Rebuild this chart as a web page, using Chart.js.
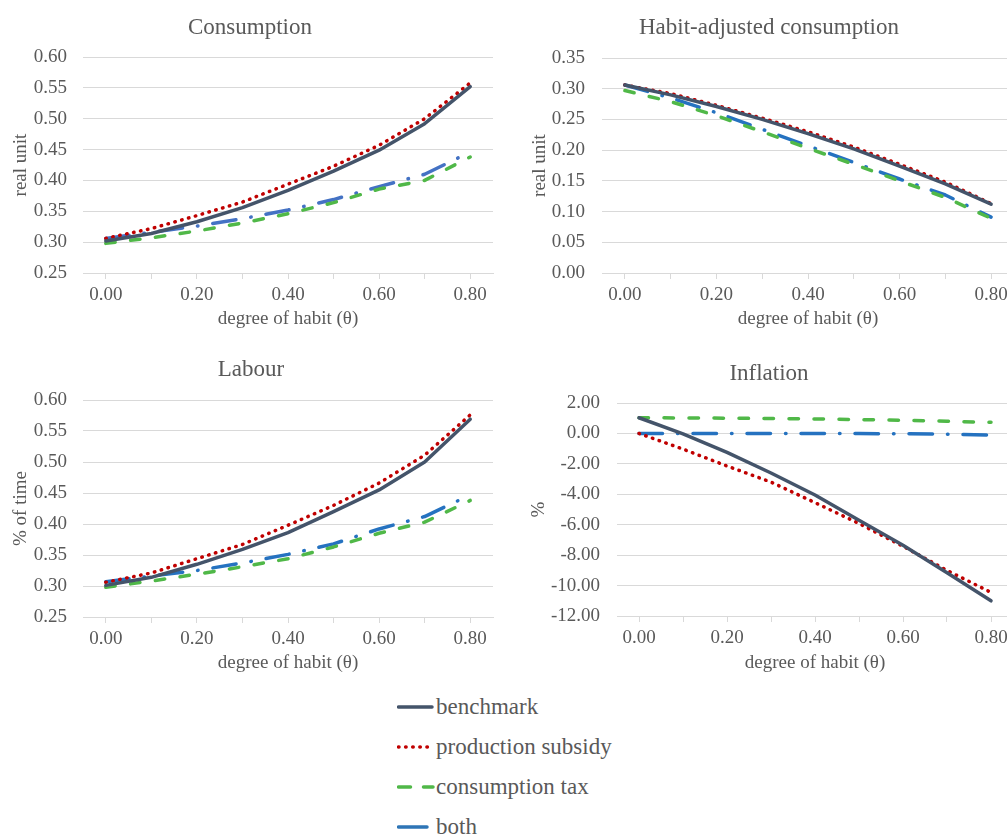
<!DOCTYPE html>
<html><head><meta charset="utf-8">
<script src="https://cdn.jsdelivr.net/npm/chart.js@4/dist/chart.umd.min.js"></script>
<style>
html,body{margin:0;padding:0;overflow:hidden;background:#fff;width:1007px;height:834px;position:relative;}
canvas{position:absolute;}
.row{position:absolute;left:397px;height:26px;line-height:26px;white-space:nowrap;font-family:'Liberation Serif','Times New Roman',serif;font-size:23px;color:#595959;}
.row svg{position:absolute;left:0;top:8px;}
.row span{position:absolute;left:39px;top:0;}
</style></head><body>
<canvas id="c1" width="500" height="340" style="left:0;top:0"></canvas>
<canvas id="c2" width="520" height="340" style="left:500px;top:0"></canvas>
<canvas id="c3" width="500" height="340" style="left:0;top:340px"></canvas>
<canvas id="c4" width="520" height="340" style="left:500px;top:340px"></canvas>
<div class="row" style="top:694px"><svg width="40" height="10"><line x1="1.5" y1="5" x2="35" y2="5" stroke="#44546A" stroke-width="3.5" stroke-linecap="round"/></svg><span>benchmark</span></div>
<div class="row" style="top:734px"><svg width="40" height="10"><line x1="1.5" y1="5" x2="36" y2="5" stroke="#C00000" stroke-width="3.5" stroke-linecap="round" stroke-dasharray="0.5 6.6"/></svg><span>production subsidy</span></div>
<div class="row" style="top:774px"><svg width="40" height="10"><line x1="1.5" y1="5" x2="36" y2="5" stroke="#50B848" stroke-width="3.5" stroke-linecap="round" stroke-dasharray="12 13 20"/></svg><span>consumption tax</span></div>
<div class="row" style="top:814px"><svg width="40" height="10"><line x1="1.5" y1="5" x2="30" y2="5" stroke="#2E75B6" stroke-width="3.5" stroke-linecap="round"/></svg><span>both</span></div>
<script>
// ---- data ----
const theta = [0, 0.1, 0.2, 0.3, 0.4, 0.5, 0.6, 0.7, 0.8];
const xTickLabels = ['0.00', '', '0.20', '', '0.40', '', '0.60', '', '0.80'];
const seriesNames = ['benchmark', 'production subsidy', 'consumption tax', 'both'];

const consBenchmark = [0.302, 0.314, 0.333, 0.356, 0.384, 0.415, 0.449, 0.492, 0.552];
const consSubsidy   = [0.306, 0.322, 0.343, 0.365, 0.394, 0.423, 0.457, 0.500, 0.558];
const consTax       = [0.298, 0.307, 0.318, 0.331, 0.346, 0.364, 0.386, 0.400, 0.438];
const consBoth      = [0.306, 0.316, 0.326, 0.338, 0.352, 0.369, 0.390, 0.410, 0.446];
const consTicks     = [0.25, 0.30, 0.35, 0.40, 0.45, 0.50, 0.55, 0.60];

const habitBenchmark = [0.306, 0.290, 0.271, 0.250, 0.227, 0.202, 0.174, 0.145, 0.112];
const habitSubsidy   = [0.306, 0.292, 0.273, 0.252, 0.230, 0.205, 0.177, 0.148, 0.113];
const habitTax       = [0.297, 0.279, 0.256, 0.230, 0.203, 0.177, 0.150, 0.123, 0.089];
const habitBoth      = [0.306, 0.285, 0.261, 0.234, 0.207, 0.180, 0.153, 0.127, 0.091];
const habitTicks     = [0.00, 0.05, 0.10, 0.15, 0.20, 0.25, 0.30, 0.35];

const labBenchmark = [0.301, 0.314, 0.335, 0.359, 0.386, 0.420, 0.455, 0.500, 0.569];
const labSubsidy   = [0.306, 0.321, 0.344, 0.367, 0.398, 0.430, 0.466, 0.511, 0.576];
const labTax       = [0.298, 0.308, 0.319, 0.331, 0.344, 0.363, 0.385, 0.403, 0.438];
const labBoth      = [0.307, 0.316, 0.325, 0.337, 0.351, 0.368, 0.392, 0.412, 0.447];
const labTicks     = [0.25, 0.30, 0.35, 0.40, 0.45, 0.50, 0.55, 0.60];

const infBenchmark = [1.03, -0.03, -1.25, -2.6, -4.05, -5.7, -7.35, -9.15, -11.0];
const infSubsidy   = [0.0, -1.03, -2.14, -3.2, -4.55, -5.92, -7.42, -9.0, -10.45];
const infTax       = [1.03, 1.02, 1.0, 0.98, 0.95, 0.91, 0.86, 0.8, 0.73];
const infBoth      = [0.0, 0.0, 0.0, 0.0, 0.0, -0.01, -0.02, -0.05, -0.11];
const infTicks     = [-12, -10, -8, -6, -4, -2, 0, 2];

// ---- styles ----
const FONT = "'Liberation Serif','Times New Roman',serif";
const TXT = '#595959';
const GRID = '#D9D9D9';
const LW = 3.5;

function ds(label, values, color, dash) {
  return {
    label, data: values.map((v, i) => ({x: theta[i], y: v})),
    borderColor: color, backgroundColor: color, borderWidth: LW,
    borderDash: dash, borderCapStyle: 'round', borderJoinStyle: 'round',
    pointRadius: 0, tension: 0, fill: false
  };
}

function makeChart(id, c) {
  const datasets = [
    ds(seriesNames[0], c.vals[0], '#44546A', []),
    ds(seriesNames[1], c.vals[1], '#C00000', [0.5, 6.6]),
    ds(seriesNames[2], c.vals[2], '#50B848', [9.5, 15.5]),
    ds(seriesNames[3], c.vals[3], c.blue, [23.5, 15, 0.5, 15])
  ];
  return new Chart(document.getElementById(id), {
    type: 'line',
    data: {datasets},
    options: {
      responsive: false, animation: false, devicePixelRatio: 1,
      layout: {padding: {left: c.pl, right: c.pr, top: 0, bottom: 0}},
      plugins: {
        legend: {display: false}, tooltip: {enabled: false},
        title: {display: true, text: c.title, color: TXT,
          font: {family: FONT, size: 23, weight: 'normal', lineHeight: 1.2},
          padding: {top: c.T, bottom: c.B}}
      },
      scales: {
        x: {
          type: 'linear', min: -0.05, max: 0.85,
          afterBuildTicks: s => { s.ticks = theta.map(v => ({value: v})); },
          ticks: {callback: (v, i) => xTickLabels[i], color: TXT, font: {family: FONT, size: 19, lineHeight: 1.2},
            padding: 5, maxRotation: 0, minRotation: 0, autoSkip: false},
          grid: {drawOnChartArea: false, drawTicks: true, tickLength: 6, color: GRID, lineWidth: 1},
          border: {display: true, color: GRID, width: 1},
          title: {display: true, text: 'degree of habit (θ)', color: TXT,
            font: {family: FONT, size: 19, lineHeight: 1.2}, padding: {top: 0, bottom: c.pb}},
          afterFit: s => { s.height = c.xH; s.paddingLeft = 0; s.paddingRight = 0; }
        },
        y: {
          type: 'linear', min: c.ticks[0], max: c.ticks[c.ticks.length - 1],
          afterBuildTicks: s => { s.ticks = c.ticks.map(v => ({value: v})); },
          ticks: {callback: v => v.toFixed(2), color: TXT, font: {family: FONT, size: 19, lineHeight: 1.2}, padding: c.tp},
          grid: {color: GRID, lineWidth: 1, drawTicks: false},
          border: {display: false},
          title: {display: true, text: c.yTitle, color: TXT,
            font: {family: FONT, size: 19, lineHeight: 1.2}, padding: {top: c.pt, bottom: 0}},
          afterFit: s => { s.width = c.yW; s.paddingTop = 0; s.paddingBottom = 0; }
        }
      }
    }
  });
}

makeChart('c1', {title: 'Consumption', yTitle: 'real unit', ticks: consTicks,
  vals: [consBenchmark, consSubsidy, consTax, consBoth], blue: '#4472C4',
  pl: 7, pr: 7, yW: 76, T: 13.7, B: 15.7, pt: 2.6, xH: 67, pb: 9.6, tp: 16});
makeChart('c2', {title: 'Habit-adjusted consumption', yTitle: 'real unit', ticks: habitTicks,
  vals: [habitBenchmark, habitSubsidy, habitTax, habitBoth], blue: '#2572C0',
  pl: 24, pr: 6, yW: 78, T: 13.7, B: 16.7, pt: 4.6, xH: 67, pb: 9.6, tp: 17});
makeChart('c3', {title: 'Labour', yTitle: '% of time', ticks: labTicks,
  vals: [labBenchmark, labSubsidy, labTax, labBoth], blue: '#2572C0',
  pl: 9, pr: 7, yW: 74, T: 16.2, B: 16.2, pt: 0.6, xH: 63, pb: 5.6, tp: 16});
makeChart('c4', {title: 'Inflation', yTitle: '%', ticks: infTicks,
  vals: [infBenchmark, infSubsidy, infTax, infBoth], blue: '#2572C0',
  pl: 25, pr: 7, yW: 92, T: 20.2, B: 15.2, pt: 2.6, xH: 64, pb: 5.6, tp: 17});
</script>
</body></html>
